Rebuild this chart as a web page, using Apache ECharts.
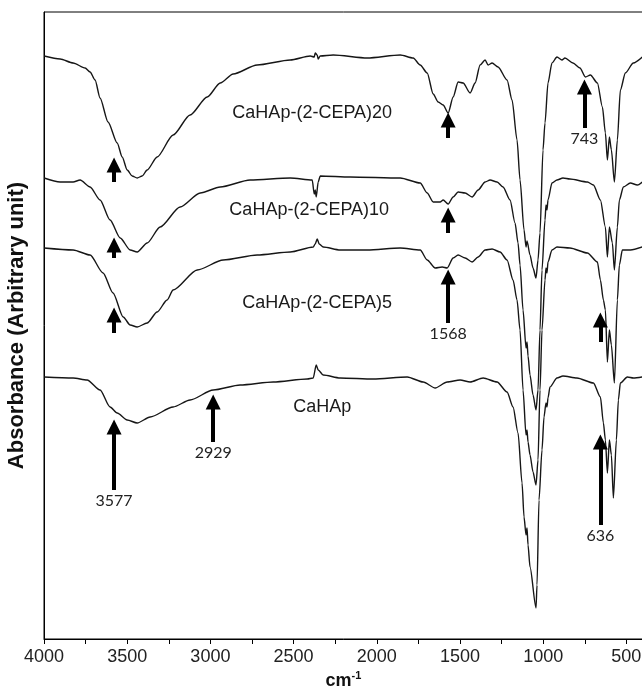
<!DOCTYPE html>
<html>
<head>
<meta charset="utf-8">
<script src="https://cdn.jsdelivr.net/npm/echarts@6/dist/echarts.min.js"></script>
<style>
  html, body { margin: 0; padding: 0; background: #fff; }
  #chart { width: 642px; height: 686px; }
</style>
</head>
<body>
<div id="chart"></div>
<script>
// spectra: [wavenumber (cm-1), absorbance in arbitrary units, offset stack as in the figure]
const cepa20 = [[3999,583],[3903,580],[3825,576],[3753,571],[3723,567],[3693,559],[3663,541],[3615,517],[3560,496],[3530,482],[3500,469],[3470,463],[3440,461],[3410,463],[3380,469],[3320,482],[3224,504],[3122,524],[3019,542],[2941,556],[2863,565],[2719,574],[2520,579],[2400,583],[2376,582],[2370,586],[2358,584],[2352,580],[2340,583],[2262,584],[2057,581],[1859,584],[1781,581],[1739,574],[1697,566],[1661,545],[1631,537],[1601,534],[1571,526],[1541,542],[1511,557],[1481,556],[1439,546],[1409,556],[1379,574],[1349,579],[1331,574],[1307,576],[1271,572],[1217,559],[1187,539],[1157,499],[1139,459],[1115,409],[1103,392],[1097,398],[1079,384],[1061,371],[1043,361],[1031,379],[1019,406],[1001,489],[989,516],[971,556],[947,576],[917,582],[887,579],[869,581],[821,576],[779,571],[746,562],[716,564],[674,556],[644,532],[626,506],[614,479],[602,502],[590,489],[572,457],[554,499],[536,549],[506,566],[458,576],[404,582]];
const cepa10 = [[3999,461],[3903,457],[3825,457],[3783,459],[3723,452],[3663,439],[3603,419],[3542,401],[3482,389],[3440,387],[3380,396],[3302,412],[3182,432],[3061,446],[2941,452],[2761,459],[2520,461],[2388,459],[2376,445],[2370,449],[2364,442],[2352,457],[2340,463],[2160,462],[1859,461],[1739,456],[1697,446],[1661,437],[1619,437],[1601,439],[1571,435],[1541,442],[1511,447],[1469,446],[1427,442],[1391,449],[1349,457],[1319,459],[1277,457],[1241,452],[1199,439],[1169,416],[1151,396],[1139,374],[1121,329],[1103,291],[1097,297],[1091,283],[1079,264],[1061,244],[1043,229],[1031,249],[1019,309],[1007,369],[989,419],[983,434],[977,429],[971,439],[947,456],[917,459],[881,461],[839,460],[734,457],[698,454],[656,439],[626,412],[614,382],[602,412],[584,396],[572,369],[554,412],[542,439],[518,452],[476,456],[434,454],[404,457]];
const cepa5 = [[3999,391],[3825,389],[3723,384],[3645,366],[3585,346],[3524,322],[3482,314],[3440,312],[3380,316],[3320,327],[3260,339],[3224,349],[3079,369],[2923,379],[2719,384],[2520,387],[2382,392],[2370,395],[2358,400],[2346,395],[2322,392],[2220,389],[2057,389],[1859,391],[1739,389],[1697,379],[1649,371],[1607,372],[1577,371],[1541,381],[1511,384],[1469,381],[1427,377],[1391,382],[1349,389],[1307,390],[1259,387],[1217,379],[1181,359],[1157,339],[1139,309],[1121,249],[1103,204],[1097,209],[1091,197],[1079,184],[1061,167],[1043,154],[1031,179],[1019,249],[1007,309],[989,359],[983,371],[977,366],[971,377],[947,389],[917,392],[839,391],[734,386],[674,377],[656,359],[638,339],[626,329],[614,277],[602,309],[590,294],[572,256],[554,339],[542,374],[524,389],[476,389],[404,392]];
const cahap = [[3999,262],[3825,261],[3741,259],[3663,249],[3603,232],[3560,226],[3500,219],[3440,216],[3362,222],[3224,232],[3122,239],[2983,249],[2821,254],[2622,257],[2418,260],[2382,261],[2364,274],[2352,269],[2322,264],[2220,261],[2021,260],[1817,262],[1721,257],[1649,251],[1577,257],[1499,259],[1439,257],[1361,261],[1277,257],[1217,247],[1181,232],[1151,206],[1127,156],[1115,122],[1103,104],[1097,111],[1091,94],[1079,72],[1043,31],[1037,54],[1025,139],[1007,189],[995,222],[983,236],[977,232],[971,241],[959,252],[917,261],[881,263],[797,261],[698,256],[656,242],[638,216],[626,199],[614,166],[602,199],[590,184],[578,141],[560,199],[548,239],[536,256],[494,262],[458,261],[404,262]];

const seriesNames = ['CaHAp-(2-CEPA)20', 'CaHAp-(2-CEPA)10', 'CaHAp-(2-CEPA)5', 'CaHAp'];
const seriesData = [cepa20, cepa10, cepa5, cahap];
// where each spectrum name sits: [wavenumber, value]
const nameSpots = [[2388, 526], [2406, 429], [2358, 336], [2327, 232]];

// arrows: [wavenumber, tail value, tip value, label]
const arrows = [
  [3579, 457, 481, ''],
  [3579, 381, 401, ''],
  [3579, 306, 331, ''],
  [3579, 149, 219, '3577'],
  [2983, 197, 244, '2929'],
  [1571, 501, 526, ''],
  [1571, 406, 431, ''],
  [1571, 316, 369, '1568'],
  [752, 511, 559, '743'],
  [656, 297, 326, ''],
  [656, 114, 204, '636']
];

const xLabels = [4000, 3500, 3000, 2500, 2000, 1500, 1000, 500];
const xTicks = [4000, 3750, 3500, 3250, 3000, 2750, 2500, 2250, 2000, 1750, 1500, 1250, 1000, 750, 500];

var chart = echarts.init(document.getElementById('chart'));

var headHalf = 7;
var lineSeries = seriesData.map(function (d, i) {
  return {
    name: seriesNames[i],
    type: 'line',
    data: d,
    showSymbol: false,
    smooth: 0.25,
    smoothMonotone: 'x',
    silent: true,
    lineStyle: { color: '#161616', width: 1.4 },
    z: 3
  };
});

lineSeries[0].markLine = {
  silent: true,
  animation: false,
  symbol: ['none', 'triangle'],
  symbolSize: 15,
  lineStyle: { color: '#000', width: 4, type: 'solid' },
  itemStyle: { color: '#000' },
  emphasis: { disabled: true },
  data: arrows.map(function (a) {
    return [
      {
        coord: [a[0], a[1]],
        label: a[3] ? {
          show: true, position: 'start', formatter: a[3], distance: 3,
          fontFamily: 'Lato', fontSize: 16, color: '#222'
        } : { show: false }
      },
      { coord: [a[0], a[2] - headHalf] }
    ];
  })
};

chart.setOption({
  animation: false,
  backgroundColor: '#fff',
  grid: {
    left: 44, width: 599, top: 12, bottom: 47,
    outerBoundsMode: 'none',
    containLabel: false,
    show: true, borderColor: '#000', borderWidth: 1
  },
  xAxis: {
    type: 'value',
    inverse: true,
    min: 400,
    max: 4000,
    axisLine: { show: true, lineStyle: { color: '#000', width: 1 } },
    axisTick: { show: true, length: 5, customValues: xTicks, lineStyle: { color: '#000' } },
    axisLabel: {
      customValues: xLabels,
      formatter: function (v) { return String(v); },
      fontFamily: 'Liberation Sans', fontSize: 18, color: '#222', margin: 9
    },
    splitLine: { show: false },
    name: '{a|cm}{b|-1}',
    nameLocation: 'middle',
    nameGap: 31,
    nameTextStyle: {
      rich: {
        a: { fontFamily: 'Liberation Sans', fontWeight: 'bold', fontSize: 18, color: '#111' },
        b: { fontFamily: 'Liberation Sans', fontWeight: 'bold', fontSize: 11, color: '#111', padding: [0, 0, 9, 0] }
      }
    }
  },
  yAxis: {
    type: 'value',
    min: 0,
    max: 627,
    axisLine: { show: true, lineStyle: { color: '#000', width: 1 } },
    axisTick: { show: false },
    axisLabel: { show: false },
    splitLine: { show: false },
    name: 'Absorbance (Arbitrary unit)',
    nameLocation: 'middle',
    nameGap: 16,
    nameTextStyle: { fontFamily: 'Liberation Sans', fontWeight: 'bold', fontSize: 22, color: '#111' }
  },
  series: lineSeries
});

// spectrum names, placed through the chart's own axes
chart.setOption({
  graphic: nameSpots.map(function (p, i) {
    var px = chart.convertToPixel({ gridIndex: 0 }, p);
    return {
      type: 'text',
      x: px[0],
      y: px[1],
      silent: true,
      z: 10,
      style: {
        text: seriesNames[i],
        fontFamily: 'Liberation Sans',
        fontSize: 18,
        fill: '#1a1a1a',
        align: 'center',
        verticalAlign: 'middle'
      }
    };
  })
});
</script>
</body>
</html>
